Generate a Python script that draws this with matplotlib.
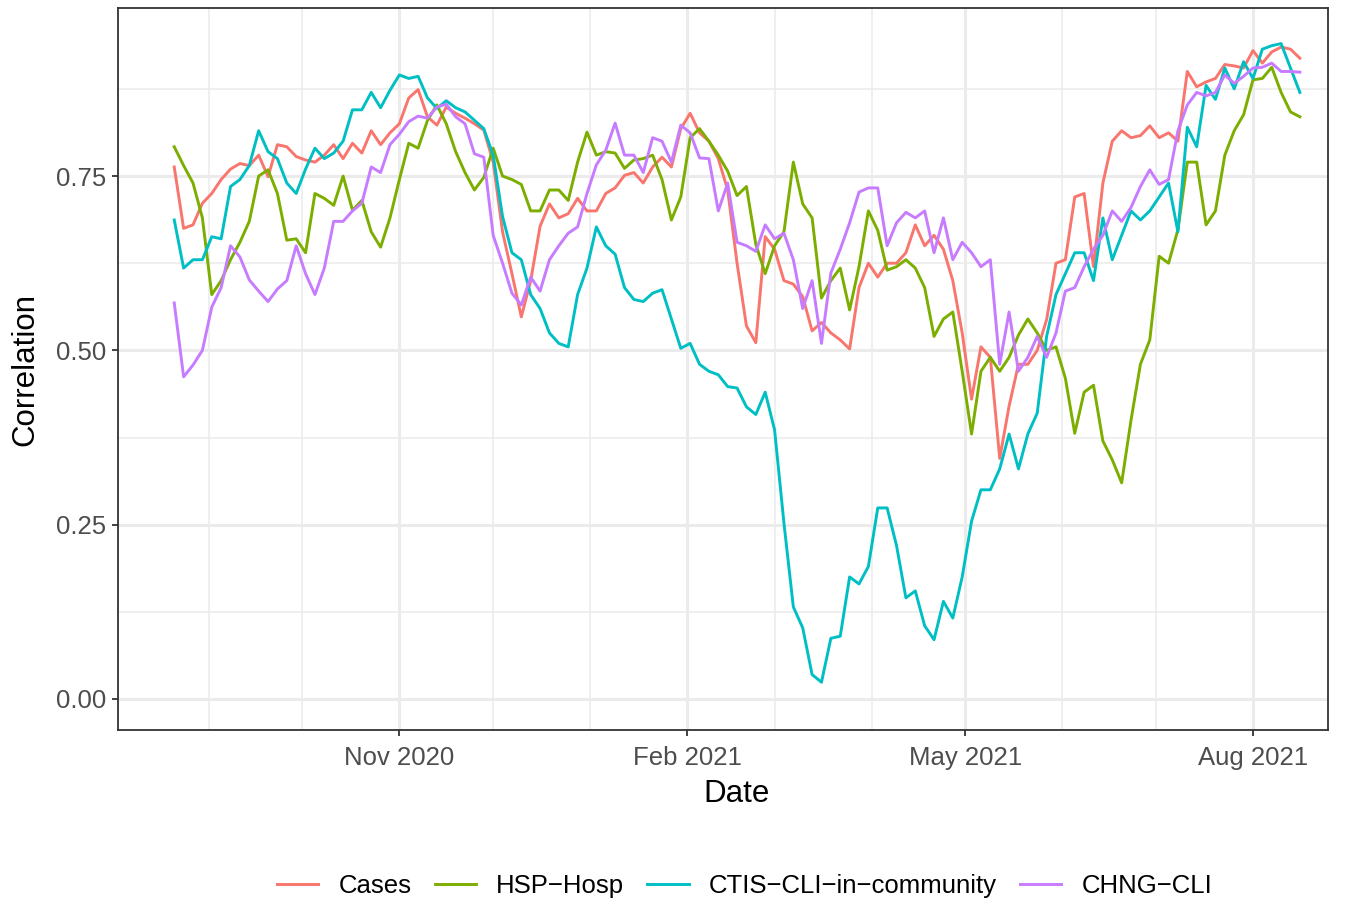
import pandas as pd
import matplotlib
matplotlib.use("Agg")
import matplotlib.pyplot as plt
import matplotlib.dates as mdates

plt.rcParams['font.family'] = ['Liberation Sans', 'DejaVu Sans']

# sampled every 3 days, 2020-08-21 .. 2021-08-16
dates = pd.date_range("2020-08-21", periods=121, freq="3D")

cases = [
    0.763, 0.675, 0.680, 0.711, 0.725, 0.745, 0.760, 0.768, 0.765, 0.780,
    0.749, 0.795, 0.792, 0.778, 0.773, 0.770, 0.780, 0.795, 0.775, 0.797,
    0.783, 0.815, 0.795, 0.812, 0.825, 0.862, 0.874, 0.835, 0.823, 0.849,
    0.840, 0.833, 0.825, 0.816, 0.770, 0.670, 0.610, 0.548, 0.600, 0.678,
    0.710, 0.690, 0.696, 0.718, 0.700, 0.700, 0.725, 0.733, 0.751, 0.755,
    0.740, 0.763, 0.777, 0.763, 0.818, 0.840, 0.812, 0.800, 0.775, 0.730,
    0.625, 0.535, 0.511, 0.663, 0.645, 0.600, 0.595, 0.577, 0.528, 0.540,
    0.525, 0.515, 0.502, 0.590, 0.625, 0.605, 0.625, 0.625, 0.640, 0.680,
    0.650, 0.665, 0.645, 0.600, 0.525, 0.430, 0.505, 0.490, 0.345, 0.420,
    0.480, 0.480, 0.500, 0.544, 0.625, 0.630, 0.720, 0.725, 0.620, 0.740,
    0.800, 0.815, 0.805, 0.808, 0.822, 0.805, 0.812, 0.800, 0.900, 0.878,
    0.885, 0.890, 0.910, 0.908, 0.905, 0.930, 0.912, 0.928, 0.935, 0.932,
    0.919,
]

hsp_hosp = [
    0.792, 0.765, 0.740, 0.690, 0.580, 0.600, 0.630, 0.655, 0.685, 0.750,
    0.759, 0.725, 0.658, 0.660, 0.640, 0.725, 0.718, 0.708, 0.750, 0.701,
    0.715, 0.670, 0.648, 0.690, 0.745, 0.797, 0.790, 0.830, 0.852, 0.825,
    0.785, 0.755, 0.730, 0.748, 0.790, 0.750, 0.745, 0.738, 0.700, 0.700,
    0.730, 0.730, 0.715, 0.770, 0.813, 0.780, 0.785, 0.783, 0.761, 0.773,
    0.775, 0.780, 0.745, 0.687, 0.720, 0.805, 0.818, 0.800, 0.780, 0.757,
    0.722, 0.735, 0.652, 0.610, 0.650, 0.670, 0.770, 0.710, 0.690, 0.575,
    0.600, 0.618, 0.558, 0.620, 0.700, 0.672, 0.615, 0.620, 0.630, 0.618,
    0.590, 0.520, 0.545, 0.555, 0.470, 0.380, 0.470, 0.490, 0.470, 0.490,
    0.522, 0.545, 0.525, 0.500, 0.505, 0.460, 0.381, 0.440, 0.450, 0.370,
    0.343, 0.310, 0.400, 0.480, 0.515, 0.635, 0.625, 0.673, 0.770, 0.770,
    0.680, 0.700, 0.780, 0.815, 0.838, 0.888, 0.890, 0.906, 0.870, 0.842,
    0.835,
]

ctis_cli = [
    0.687, 0.618, 0.630, 0.630, 0.663, 0.660, 0.735, 0.745, 0.765, 0.815,
    0.785, 0.775, 0.740, 0.725, 0.760, 0.790, 0.775, 0.783, 0.800, 0.845,
    0.845, 0.870, 0.848, 0.873, 0.895, 0.890, 0.893, 0.862, 0.847, 0.858,
    0.848, 0.842, 0.830, 0.818, 0.780, 0.692, 0.640, 0.630, 0.580, 0.560,
    0.525, 0.510, 0.505, 0.580, 0.618, 0.677, 0.650, 0.638, 0.590, 0.573,
    0.570, 0.582, 0.587, 0.545, 0.503, 0.510, 0.480, 0.470, 0.465, 0.448,
    0.446, 0.419, 0.408, 0.440, 0.386, 0.252, 0.132, 0.102, 0.035, 0.024,
    0.087, 0.090, 0.175, 0.165, 0.190, 0.274, 0.274, 0.220, 0.145, 0.155,
    0.105, 0.085, 0.140, 0.116, 0.175, 0.255, 0.300, 0.300, 0.330, 0.380,
    0.330, 0.380, 0.410, 0.520, 0.580, 0.610, 0.640, 0.640, 0.600, 0.690,
    0.630, 0.665, 0.700, 0.687, 0.700, 0.720, 0.740, 0.670, 0.820, 0.792,
    0.880, 0.860, 0.905, 0.875, 0.914, 0.890, 0.932, 0.937, 0.940, 0.905,
    0.870,
]

chng_cli = [
    0.568, 0.462, 0.479, 0.500, 0.562, 0.590, 0.650, 0.634, 0.601, 0.585,
    0.570, 0.588, 0.600, 0.650, 0.610, 0.580, 0.618, 0.685, 0.685, 0.700,
    0.711, 0.763, 0.755, 0.795, 0.810, 0.828, 0.836, 0.833, 0.849, 0.853,
    0.835, 0.825, 0.782, 0.777, 0.665, 0.625, 0.582, 0.565, 0.605, 0.585,
    0.630, 0.650, 0.668, 0.677, 0.725, 0.766, 0.787, 0.826, 0.780, 0.780,
    0.755, 0.805, 0.800, 0.770, 0.823, 0.812, 0.776, 0.775, 0.700, 0.740,
    0.655, 0.650, 0.642, 0.680, 0.660, 0.668, 0.630, 0.560, 0.600, 0.510,
    0.611, 0.645, 0.683, 0.727, 0.733, 0.733, 0.650, 0.683, 0.698, 0.690,
    0.700, 0.640, 0.690, 0.630, 0.655, 0.640, 0.620, 0.630, 0.480, 0.555,
    0.470, 0.490, 0.520, 0.490, 0.525, 0.585, 0.590, 0.620, 0.645, 0.665,
    0.700, 0.685, 0.705, 0.735, 0.759, 0.738, 0.745, 0.815, 0.852, 0.870,
    0.865, 0.870, 0.895, 0.883, 0.893, 0.905, 0.906, 0.912, 0.900, 0.900,
    0.899,
]

series = {
    "Cases": (cases, "#F8766D"),
    "HSP\u2212Hosp": (hsp_hosp, "#7CAE00"),
    "CTIS\u2212CLI\u2212in\u2212community": (ctis_cli, "#00BFC4"),
    "CHNG\u2212CLI": (chng_cli, "#C77CFF"),
}

fig = plt.figure(figsize=(13.59, 9.02), dpi=100)
ax = fig.add_axes([0.0868, 0.1907, 0.8904, 0.8004])

for name, (vals, col) in series.items():
    ax.plot(dates, vals, color=col, linewidth=2.1, label=name)

ax.set_xlim(pd.Timestamp("2020-08-03"), pd.Timestamp("2021-08-25"))
ax.set_ylim(-0.0445, 0.991)

# ggplot theme_bw look
ax.set_yticks([0, 0.25, 0.5, 0.75])
ax.set_yticklabels(["0.00", "0.25", "0.50", "0.75"])
ax.set_yticks([0.125, 0.375, 0.625, 0.875], minor=True)
ax.xaxis.set_major_locator(mdates.MonthLocator(bymonth=[2, 5, 8, 11]))
ax.xaxis.set_major_formatter(mdates.DateFormatter("%b %Y"))
ax.xaxis.set_minor_locator(mdates.MonthLocator())

ax.grid(which="major", color="#EBEBEB", linewidth=2.2)
ax.grid(which="minor", color="#EBEBEB", linewidth=1.1)
ax.set_axisbelow(True)
for sp in ax.spines.values():
    sp.set_color("#333333")
    sp.set_linewidth(1.3)

ax.tick_params(which="major", length=4.5, width=1.3, color="#333333",
               labelsize=18.5, labelcolor="#4D4D4D", pad=4)
ax.tick_params(axis="x", which="major", pad=7)
ax.tick_params(which="minor", length=0)

ax.set_xlabel("Date", fontsize=22.5)
ax.set_ylabel("Correlation", fontsize=22.5)
ax.xaxis.set_label_coords(0.511, -0.068)
ax.yaxis.set_label_coords(-0.064, 0.5)

fig.legend(loc="center", bbox_to_anchor=(0.548, 0.018), ncol=4, frameon=False,
           fontsize=18.5, handlelength=1.6, handletextpad=0.8, columnspacing=0.9)

fig.savefig("out.png", dpi=100, facecolor="white")
